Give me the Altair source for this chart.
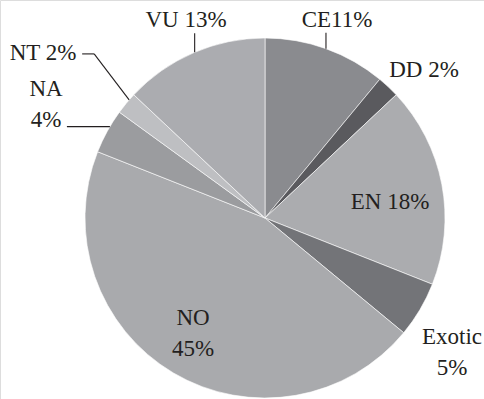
import math
import altair as alt
import pandas as pd

# Conservation status shares (percent), clockwise from 12 o'clock
categories = ["CE", "DD", "EN", "Exotic", "NO", "NA", "NT", "VU"]
shares = [11, 2, 18, 5, 45, 4, 2, 13]
labels = ["CE11%", "DD 2%", "EN 18%", "Exotic\n5%", "NO\n45%", "NA\n4%", "NT 2%", "VU 13%"]
colors = ["#8a8b8f", "#5a5a5e", "#abacaf", "#737478", "#a9aaad", "#9b9c9f", "#bebfc2", "#abacb0"]

# Pie geometry (pixels)
CX, CY, R = 265, 218, 180

# Label placement: offset of each label's first line from the pie centre
label_offset = {
    "CE": (72, -198), "DD": (159, -148), "EN": (125, -16), "Exotic": (187, 119),
    "NO": (-72, 100), "NA": (-219, -129), "NT": (-222, -165), "VU": (-79, -198),
}

# Leader lines: start on the rim at an angle (deg), then follow pixel steps
leaders = {
    "CE": (19.8, [(0, -16)]),
    "VU": (337.0, [(0, -19)]),
    "NT": (311.0, [(-35, -46), (-12, 0)]),
    "NA": (300.5, [(-43, 0)]),
}

df = pd.DataFrame({
    "cat": categories,
    "share": shares,
    "label": labels,
    "idx": list(range(len(categories))),
})
df["lx"] = [CX + label_offset[c][0] for c in categories]
df["ly"] = [CY + label_offset[c][1] for c in categories]

segs = []
for cat, (ang, steps) in leaders.items():
    a = math.radians(ang)
    x0, y0 = CX + R * math.sin(a), CY - R * math.cos(a)
    for dx, dy in steps:
        x1, y1 = x0 + dx, y0 + dy
        segs.append({"cat": cat, "x": x0, "y": y0, "x2": x1, "y2": y1})
        x0, y0 = x1, y1
seg_df = pd.DataFrame(segs)

pie = alt.Chart(df).mark_arc(outerRadius=R, stroke="#ffffff", strokeWidth=0.6).encode(
    theta=alt.Theta("share:Q", stack=True),
    order=alt.Order("idx:Q"),
    color=alt.Color("cat:N", scale=alt.Scale(domain=categories, range=colors), legend=None),
    x=alt.value(CX),
    y=alt.value(CY),
)

text = alt.Chart(df).mark_text(
    font="Liberation Serif", fontSize=23, color="#231f20",
    align="center", baseline="middle", lineBreak="\n", lineHeight=31,
).encode(
    x=alt.X("lx:Q", scale=None),
    y=alt.Y("ly:Q", scale=None),
    text="label:N",
)

lines = alt.Chart(seg_df).mark_rule(color="#231f20", strokeWidth=1.1).encode(
    x=alt.X("x:Q", scale=None),
    y=alt.Y("y:Q", scale=None),
    x2="x2:Q",
    y2="y2:Q",
)

chart = alt.layer(pie, lines, text).properties(
    width=484, height=399, padding=0,
    autosize=alt.AutoSizeParams(type="none"),
).configure_view(stroke=None).configure(background="#ffffff")

chart.save("out.html", embed_options={"renderer": "svg", "actions": False})
